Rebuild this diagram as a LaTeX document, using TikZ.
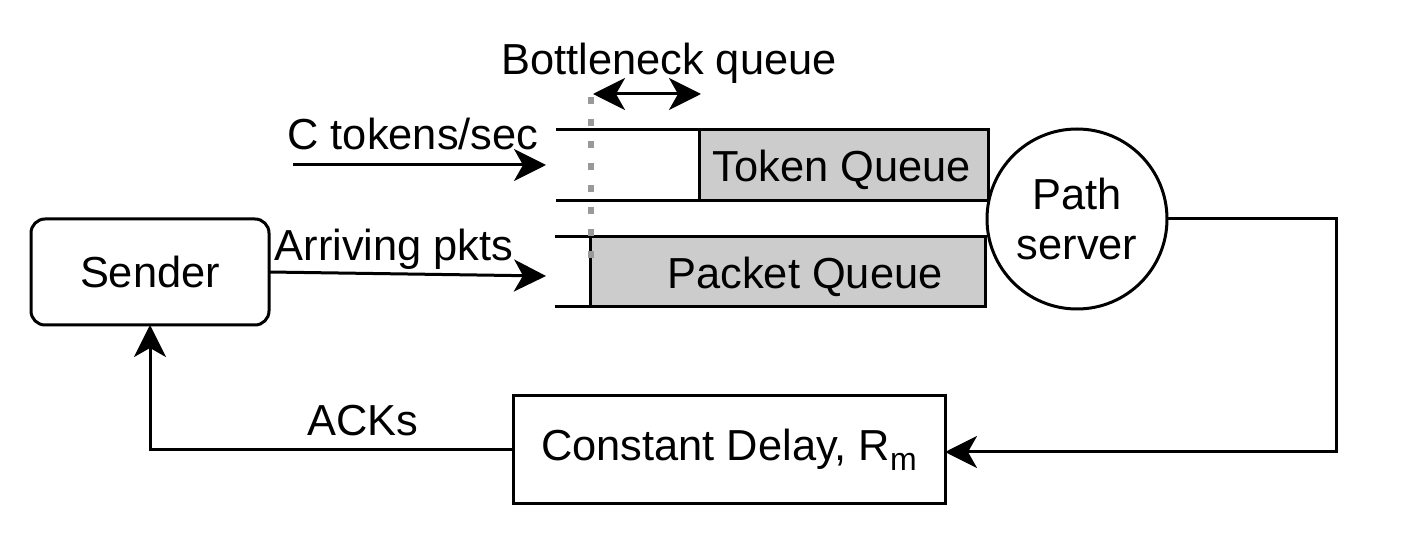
\documentclass[tikz,border=0pt]{standalone}
\usepackage{fontspec}
\setmainfont{Liberation Sans}
\usetikzlibrary{arrows.meta}
\begin{document}
\begin{tikzpicture}[x=0.5pt,y=-0.5pt,
  every node/.style={font=\fontsize{21.7pt}{26pt}\selectfont, inner sep=0pt, outer sep=0pt},
  ln/.style={line width=1.5pt},
  tip/.tip={Stealth[length=16pt,width=16pt,inset=4.5pt]},
  arr/.style={ln,-tip},
  darr/.style={ln,tip-tip},
  qfill/.style={draw,ln,fill=black!20,inner sep=0pt}]
\useasboundingbox (0,0) rectangle (1415,545);
% nodes
\node[draw,ln,rounded corners=7pt,minimum width=119pt,minimum height=53pt] (snd) at (150,272) {Sender};
\node[qfill,minimum width=144.5pt,minimum height=35.5pt] (tq) at (843.5,165.5) {};
\node at (842,170) {Token Queue};
\node[qfill,minimum width=197.5pt,minimum height=35pt] (pq) at (787.5,272) {};
\node (pqt) at (805,277) {Packet Queue};
\node[draw,ln,circle,minimum size=90pt,align=center,font=\fontsize{21.7pt}{25pt}\selectfont] (ps) at (1077,219) {Path\\server};
\node[draw,ln,minimum width=216pt,minimum height=53.5pt] (cd) at (729,449.5) {Constant Delay, R\raisebox{-5pt}{\fontsize{16pt}{16pt}\selectfont m}};
% queue lines
\coordinate (tqa) at (556,130);
\coordinate (tqb) at (556,201);
\coordinate (pqa) at (555,237);
\coordinate (pqb) at (555,307);
\draw[ln] (tqa) -- (tq.north west);
\draw[ln] (tqb) -- (tq.south west);
\draw[ln] (pqa) -- (pq.north west);
\draw[ln] (pqb) -- (pq.south west);
% dotted line
\coordinate (d1) at (591,97);
\coordinate (d2) at (591,272);
\draw[line width=3pt,color=black!40,dash pattern=on 3.5pt off 7.5pt] (d1) -- (d2);
% bottleneck arrow
\coordinate (b1) at (593,94);
\coordinate (b2) at (701,94);
\draw[darr] (b1) -- (b2);
\node (bq) at (669,63) {Bottleneck queue};
% token arrow
\coordinate (t1) at (293,165);
\coordinate (t2) at (546,165);
\draw[arr] (t1) -- (t2);
\node (ct) at (413,134) {C tokens/sec};
% packets arrow
\coordinate (p2) at (546,276);
\draw[arr] (snd.east) -- (p2);
\node (ap) at (394,249) {Arriving pkts};
% feedback
\coordinate (r1) at (1336,219);
\coordinate (r2) at (1336,452);
\draw[arr] (ps.east) -- (r1) -- (r2) -- (cd.east |- r2);
\coordinate (a1) at (150,450);
\draw[arr] (cd.west |- a1) -- (a1) -- (snd.south);
\node (ack) at (363,421) {ACKs};
\end{tikzpicture}
\end{document}
